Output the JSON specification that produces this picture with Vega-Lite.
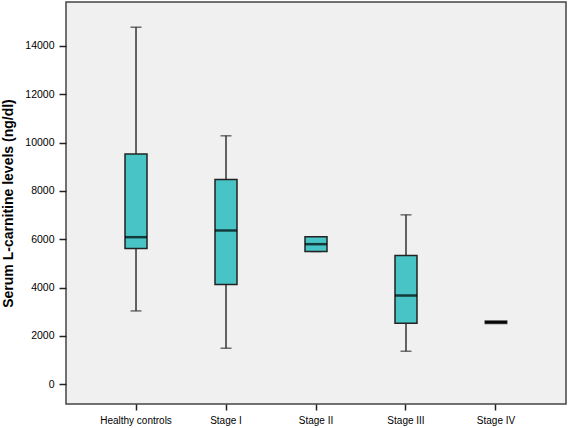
{
  "$schema": "https://vega.github.io/schema/vega-lite/v6.json",
  "width": 500,
  "height": 402,
  "autosize": {"type": "none"},
  "padding": {"left": 66, "top": 2, "right": 2, "bottom": 24},
  "background": "white",
  "data": {
    "values": [
      {"group": "Healthy controls", "min": 3035, "q1": 5619, "median": 6087, "q3": 9532, "max": 14774},
      {"group": "Stage I", "min": 1491, "q1": 4128, "median": 6364, "q3": 8476, "max": 10282},
      {"group": "Stage II", "min": 5495, "q1": 5495, "median": 5797, "q3": 6100, "max": 6100},
      {"group": "Stage III", "min": 1366, "q1": 2526, "median": 3673, "q3": 5329, "max": 7011},
      {"group": "Stage IV", "min": 2567, "q1": 2567, "median": 2567, "q3": 2567, "max": 2567}
    ]
  },
  "encoding": {
    "x": {
      "field": "group",
      "type": "nominal",
      "sort": null,
      "title": null,
      "scale": {"paddingInner": 0, "paddingOuter": 0.278},
      "axis": {"labelAngle": 0, "tickSize": 6, "labelFontSize": 10, "labelPadding": 5, "domain": false, "tickColor": "#222", "tickWidth": 1.5}
    }
  },
  "layer": [
    {
      "mark": {"type": "rule", "color": "#333", "strokeWidth": 1.5},
      "encoding": {
        "y": {
          "field": "min",
          "type": "quantitative",
          "title": "Serum L-carnitine levels (ng/dl)",
          "scale": {"domain": [-816, 15818], "nice": false, "zero": false},
          "axis": {
            "values": [0, 2000, 4000, 6000, 8000, 10000, 12000, 14000],
            "format": "d",
            "grid": false,
            "domain": false,
            "tickSize": 7,
            "tickColor": "#222",
            "tickWidth": 1.5,
            "labelFontSize": 10.5,
            "labelPadding": 5,
            "titleFontSize": 14,
            "titleFontWeight": "bold",
            "titlePadding": 9
          }
        },
        "y2": {"field": "max"}
      }
    },
    {
      "mark": {"type": "tick", "color": "#333", "size": 11, "thickness": 1.5},
      "encoding": {"y": {"field": "min", "type": "quantitative"}}
    },
    {
      "mark": {"type": "tick", "color": "#333", "size": 11, "thickness": 1.5},
      "encoding": {"y": {"field": "max", "type": "quantitative"}}
    },
    {
      "mark": {"type": "bar", "size": 22, "fill": "#48C4C6", "stroke": "#222", "strokeWidth": 1.5},
      "encoding": {
        "y": {"field": "q1", "type": "quantitative"},
        "y2": {"field": "q3"}
      }
    },
    {
      "mark": {"type": "tick", "color": "#000", "size": 22, "thickness": 2.5},
      "encoding": {"y": {"field": "median", "type": "quantitative"}}
    },
    {
      "transform": [{"filter": "datum.group === 'Stage IV'"}],
      "mark": {"type": "tick", "color": "#000", "size": 23, "thickness": 4},
      "encoding": {"y": {"field": "median", "type": "quantitative"}}
    }
  ],
  "config": {
    "font": "Liberation Sans",
    "axis": {"labelFont": "Liberation Sans", "titleFont": "Liberation Sans", "labelColor": "#000", "titleColor": "#000"},
    "view": {"fill": "#F0F0F0", "stroke": "#444", "strokeWidth": 1.5}
  }
}
